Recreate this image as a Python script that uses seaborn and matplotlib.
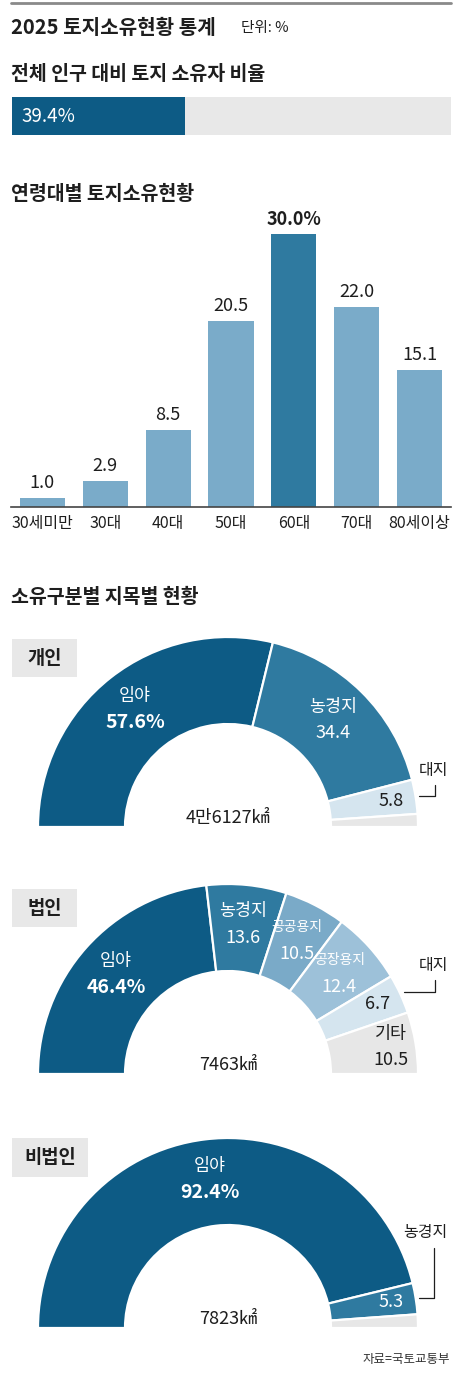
import numpy as np
import pandas as pd
import matplotlib
matplotlib.use("Agg")
import matplotlib.pyplot as plt
import seaborn as sns
from matplotlib.patches import Rectangle

sns.set_theme(style="white")
plt.rcParams['font.family'] = ['Noto Sans CJK KR', 'DejaVu Sans']

W, H = 461, 1374

# === 데이터 ===
owner_share = 39.4

age_groups = ["30세미만", "30대", "40대", "50대", "60대", "70대", "80세이상"]
age_values = [1.0, 2.9, 8.5, 20.5, 30.0, 22.0, 15.1]

ind_cats = ["임야", "농경지", "대지", "기타"]
ind_vals = [57.6, 34.4, 5.8, 2.2]
ind_total = "4만6127㎢"

corp_cats = ["임야", "농경지", "공공용지", "공장용지", "대지", "기타"]
corp_vals = [46.4, 13.6, 10.5, 12.4, 6.7, 10.5]
corp_total = "7463㎢"

noncorp_cats = ["임야", "농경지", "기타"]
noncorp_vals = [92.4, 5.3, 2.3]
noncorp_total = "7823㎢"

# === 색상 ===
DARK = "#0d5b85"
MID = "#2f7aa0"
LIGHT = "#7aabc9"
GRAY = "#e8e8e8"
TXT = "#1e1e1e"
cat_colors = {"임야": DARK, "농경지": MID, "공공용지": "#7aaac8",
              "공장용지": "#9dc1d9", "대지": "#d5e5ef", "기타": "#e7e7e7"}
white_text = {"임야", "농경지", "공공용지", "공장용지"}

fig = plt.figure(figsize=(W / 100, H / 100), dpi=100)


def rect(x0, y0, x1, y1):
    # 픽셀 좌표(위에서 아래) -> figure 비율
    return [x0 / W, 1 - y1 / H, (x1 - x0) / W, (y1 - y0) / H]


# 배경 텍스트용 축
ov = fig.add_axes([0, 0, 1, 1], zorder=0)
ov.set_xlim(0, W)
ov.set_ylim(H, 0)
ov.axis("off")

ov.axhline(3, xmin=11 / W, xmax=451 / W, color="#8a8a8a", lw=2)
ov.text(11, 27, "2025 토지소유현황 통계", fontsize=14.5, fontweight="bold", color=TXT, va="center")
ov.text(241, 28, "단위: %", fontsize=10.5, color=TXT, va="center")
ov.text(11, 75, "전체 인구 대비 토지 소유자 비율", fontsize=14, fontweight="bold", color=TXT, va="center")
ov.text(11, 194, "연령대별 토지소유현황", fontsize=14, fontweight="bold", color=TXT, va="center")
ov.text(11, 597, "소유구분별 지목별 현황", fontsize=14, fontweight="bold", color=TXT, va="center")
ov.text(450, 1360, "자료=국토교통부", fontsize=9, color="#333333", ha="right", va="center")

for name, (x0, y0, x1, y1) in [("개인", (12, 639, 77, 677)),
                               ("법인", (12, 889, 77, 927)),
                               ("비법인", (12, 1138, 88, 1177))]:
    ov.add_patch(Rectangle((x0, y0), x1 - x0, y1 - y0, color=GRAY, lw=0))
    ov.text((x0 + x1) / 2, (y0 + y1) / 2, name, fontsize=13.5, fontweight="bold",
            color=TXT, ha="center", va="center")

# ========== 1. 토지 소유자 비율 ==========
ax_ratio = fig.add_axes(rect(12, 97, 451, 135), zorder=1)
sns.barplot(x=[owner_share], y=["전체"], orient="h", color=DARK, saturation=1,
            width=1, linewidth=0, ax=ax_ratio)
ax_ratio.set_xlim(0, 100)
ax_ratio.set_ylim(0.5, -0.5)
ax_ratio.set_facecolor(GRAY)
ax_ratio.set_xticks([])
ax_ratio.set_yticks([])
ax_ratio.set_xlabel("")
ax_ratio.set_ylabel("")
for s in ax_ratio.spines.values():
    s.set_visible(False)
ax_ratio.text(2.2, 0, f"{owner_share:.1f}%", color="white", fontsize=13.5, va="center")

# ========== 2. 연령대별 ==========
age_df = pd.DataFrame({"age": age_groups, "value": age_values})
vmax = max(age_values)
bar_colors = {g: (MID if v == vmax else LIGHT) for g, v in zip(age_groups, age_values)}

ax_age = fig.add_axes(rect(11, 225, 451, 507), zorder=1)
sns.barplot(data=age_df, x="age", y="value", hue="age", palette=bar_colors, legend=False,
            width=0.72, linewidth=0, saturation=1, ax=ax_age)
ax_age.set_xlim(-0.5, len(age_groups) - 0.5)
ax_age.set_ylim(0, 31)
ax_age.set_facecolor("none")
ax_age.set_yticks([])
ax_age.set_xlabel("")
ax_age.set_ylabel("")
for k in ["top", "left", "right"]:
    ax_age.spines[k].set_visible(False)
ax_age.spines["bottom"].set_color("#444444")
ax_age.spines["bottom"].set_linewidth(1.2)
ax_age.tick_params(axis="x", length=0, pad=6, labelsize=11.5, colors=TXT)

for i, v in enumerate(age_values):
    top = v == vmax
    ax_age.annotate(f"{v:.1f}%" if top else f"{v:.1f}", (i, v), xytext=(0, 4),
                    textcoords="offset points", ha="center", va="bottom",
                    fontsize=13, fontweight="bold" if top else "normal", color=TXT)


# ========== 3. 반원 도넛 ==========
def half_donut(box, cats, vals, total, skip=(), outside=None, out_xy=(1.08, 0.3), relx=0.57):
    ax = fig.add_axes(rect(*box), zorder=1)
    colors = [cat_colors[c] for c in cats]
    wedges, _ = ax.pie(vals + [sum(vals)], colors=colors + ["white"], startangle=180,
                       counterclock=False, radius=1,
                       wedgeprops=dict(width=0.458, edgecolor="white", linewidth=1.6))
    wedges[-1].set_visible(False)
    ax.set_xlim(-1, 1)
    ax.set_ylim(0, 1)
    ax.set_aspect("equal")
    ax.axis("off")

    for idx, (w, cat, v) in enumerate(zip(wedges[:-1], cats, vals)):
        if cat in skip:
            continue
        mid = (w.theta1 + w.theta2) / 2
        ang = np.deg2rad(mid)
        small = v < 11 and mid < 30
        r = 0.87 if small else 0.79
        x, y = r * np.cos(ang), r * np.sin(ang)
        col = "white" if cat in white_text else TXT
        vtxt = f"{v:.1f}%" if idx == 0 else f"{v:.1f}"
        if cat == outside:
            ax.text(x, y, vtxt, ha="center", va="center", fontsize=13, color=col)
            ex, ey = 1.02 * np.cos(ang), 1.02 * np.sin(ang)
            ax.annotate(cat, xy=(ex, ey), xytext=out_xy, ha="center", va="center",
                        fontsize=11.5, color=TXT, annotation_clip=False,
                        arrowprops=dict(arrowstyle="-", color=TXT, lw=0.9,
                                        connectionstyle="angle,angleA=90,angleB=0",
                                        relpos=(relx, 0), shrinkA=2, shrinkB=0))
        else:
            ax.annotate(cat, (x, y), xytext=(0, 9.5), textcoords="offset points",
                        ha="center", va="center", color=col,
                        fontsize=10 if len(cat) >= 4 else 12.5)
            ax.annotate(vtxt, (x, y), xytext=(0, -9.5), textcoords="offset points",
                        ha="center", va="center", color=col,
                        fontsize=14 if idx == 0 else 13,
                        fontweight="bold" if idx == 0 else "normal")
    ax.text(0, 0.02, total, ha="center", va="baseline", fontsize=13, color=TXT)
    return ax


half_donut((38, 637, 418, 827), ind_cats, ind_vals, ind_total,
           skip=("기타",), outside="대지", out_xy=(1.08, 0.30))
half_donut((38, 884, 418, 1074), corp_cats, corp_vals, corp_total,
           outside="대지", out_xy=(1.08, 0.57))
half_donut((38, 1138, 418, 1328), noncorp_cats, noncorp_vals, noncorp_total,
           skip=("기타",), outside="농경지", out_xy=(1.04, 0.50), relx=0.68)

fig.savefig("out.png", dpi=100)
